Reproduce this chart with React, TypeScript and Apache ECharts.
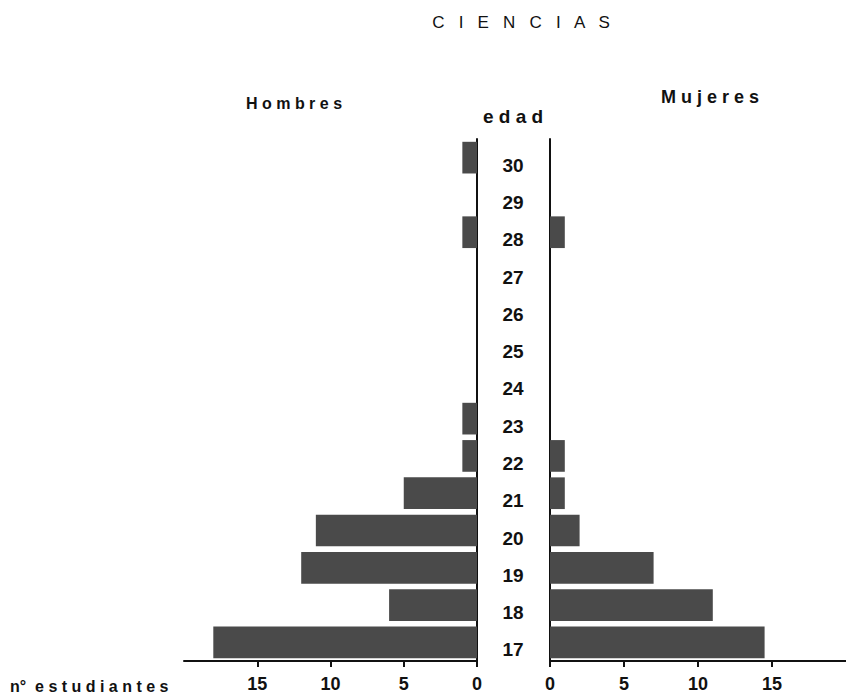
import React, { useEffect, useRef } from "react";
import * as echarts from "echarts";

const ages = ["17", "18", "19", "20", "21", "22", "23", "24", "25", "26", "27", "28", "29", "30"];
const hombres = [18, 6, 12, 11, 5, 1, 1, 0, 0, 0, 0, 1, 0, 1];
const mujeres = [14.5, 11, 7, 2, 1, 1, 0, 0, 0, 0, 0, 1, 0, 0];
const tickValues = [0, 5, 10, 15];

const FONT = "'Liberation Sans Narrow', 'Liberation Sans', Arial, sans-serif";
const BAR = "#4a4a4a";
const INK = "#111111";

export default function App() {
  const ref = useRef<HTMLDivElement>(null);
  useEffect(() => {
    document.body.style.margin = "0";
    const chart = echarts.init(ref.current!, null, { renderer: "svg" });
    const xCommon = (gridIndex: number, inverse: boolean) => ({
      type: "value",
      gridIndex,
      inverse,
      min: 0,
      max: 20,
      interval: 5,
      axisLine: { show: true, lineStyle: { color: INK, width: 2 } },
      axisTick: { show: true, length: 6, customValues: tickValues, lineStyle: { color: INK, width: 2 } },
      axisLabel: {
        customValues: tickValues,
        margin: 14,
        color: INK,
        fontFamily: FONT,
        fontWeight: "bold",
        fontSize: 18,
        formatter: (v: number) => (v === 20 ? "" : String(v)),
      },
      splitLine: { show: false },
    });
    chart.setOption({
      animation: false,
      backgroundColor: "#ffffff",
      grid: [
        { left: 184, right: 369, top: 139, bottom: 39 },
        { left: 550, right: 0, top: 139, bottom: 39 },
      ],
      xAxis: [xCommon(0, true), xCommon(1, false)],
      yAxis: [
        {
          type: "category",
          gridIndex: 0,
          position: "right",
          data: ages,
          axisLine: { show: true, lineStyle: { color: INK, width: 2 } },
          axisTick: { show: false },
          axisLabel: {
            margin: 36,
            align: "center",
            verticalAlign: "top",
            lineHeight: 15,
            color: INK,
            fontFamily: FONT,
            fontWeight: "bold",
            fontSize: 19,
          },
        },
        {
          type: "category",
          gridIndex: 1,
          position: "left",
          data: ages,
          axisLine: { show: true, lineStyle: { color: INK, width: 2 } },
          axisTick: { show: false },
          axisLabel: { show: false },
        },
      ],
      series: [
        {
          name: "Hombres",
          type: "bar",
          xAxisIndex: 0,
          yAxisIndex: 0,
          data: hombres,
          barCategoryGap: "15%",
          itemStyle: { color: BAR },
        },
        {
          name: "Mujeres",
          type: "bar",
          xAxisIndex: 1,
          yAxisIndex: 1,
          data: mujeres,
          barCategoryGap: "15%",
          itemStyle: { color: BAR },
        },
      ],
      graphic: [
        {
          type: "text",
          x: 521,
          y: 22,
          style: {
            text: "C   I   E   N   C   I   A   S",
            fontFamily: FONT,
            fontSize: 17,
            fill: INK,
            align: "center",
            verticalAlign: "middle",
          },
        },
        {
          type: "text",
          x: 246,
          y: 103,
          style: {
            text: "H o m b r e s",
            fontFamily: FONT,
            fontSize: 16,
            fontWeight: "bold",
            fill: INK,
            align: "left",
            verticalAlign: "middle",
          },
        },
        {
          type: "text",
          x: 661,
          y: 97,
          style: {
            text: "M u j e r e s",
            fontFamily: FONT,
            fontSize: 18,
            fontWeight: "bold",
            fill: INK,
            align: "left",
            verticalAlign: "middle",
          },
        },
        {
          type: "text",
          x: 513,
          y: 116,
          style: {
            text: "e d a d",
            fontFamily: FONT,
            fontSize: 19,
            fontWeight: "bold",
            fill: INK,
            align: "center",
            verticalAlign: "middle",
          },
        },
        {
          type: "text",
          x: 10,
          y: 686,
          style: {
            text: "n°  e s t u d i a n t e s",
            fontFamily: FONT,
            fontSize: 16,
            fontWeight: "bold",
            fill: INK,
            align: "left",
            verticalAlign: "middle",
          },
        },
      ],
    });
    return () => chart.dispose();
  }, []);
  return <div ref={ref} style={{ width: 846, height: 700 }} />;
}
